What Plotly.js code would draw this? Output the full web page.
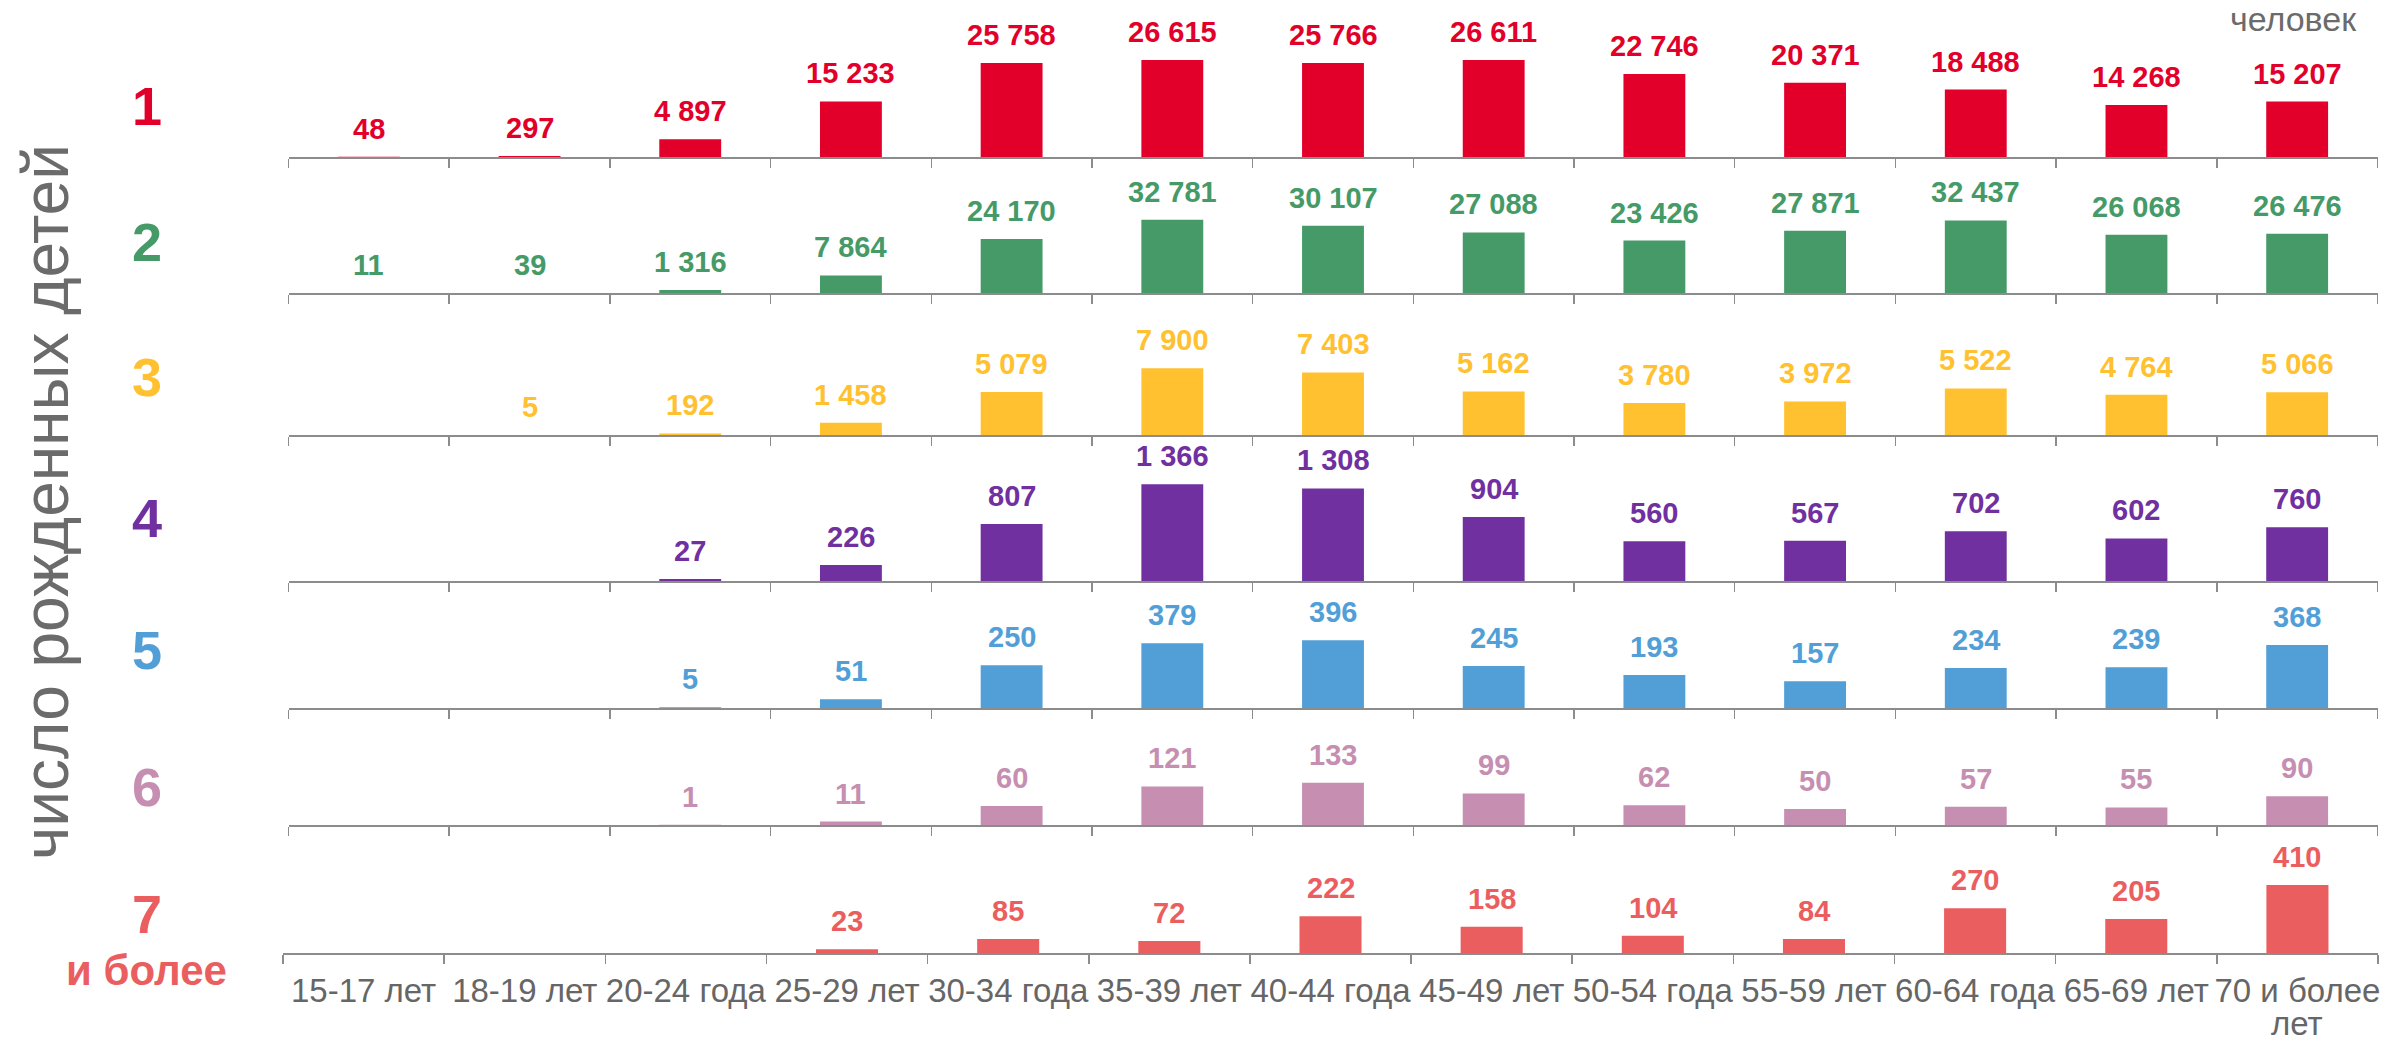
<!DOCTYPE html>
<html>
<head>
<meta charset="utf-8">
<script src="https://cdn.plot.ly/plotly-3.0.1.min.js"></script>
<style>html,body{margin:0;padding:0;background:#fff;}#chart{width:2404px;height:1043px;}</style>
</head>
<body>
<div id="chart"></div>
<script>
// ---- data ----
var ages = ['15-17 лет','18-19 лет','20-24 года','25-29 лет','30-34 года','35-39 лет','40-44 года','45-49 лет','50-54 года','55-59 лет','60-64 года','65-69 лет','70 и более лет'];
var ageTickText = ['15-17 лет','18-19 лет','20-24 года','25-29 лет','30-34 года','35-39 лет','40-44 года','45-49 лет','50-54 года','55-59 лет','60-64 года','65-69 лет','70 и более<br>лет'];
var rowLabels = ['1','2','3','4','5','6','7'];
var rowSubLabel = 'и более';
var children1 = [48,297,4897,15233,25758,26615,25766,26611,22746,20371,18488,14268,15207];
var children2 = [11,39,1316,7864,24170,32781,30107,27088,23426,27871,32437,26068,26476];
var children3 = [null,5,192,1458,5079,7900,7403,5162,3780,3972,5522,4764,5066];
var children4 = [null,null,27,226,807,1366,1308,904,560,567,702,602,760];
var children5 = [null,null,5,51,250,379,396,245,193,157,234,239,368];
var children6 = [null,null,1,11,60,121,133,99,62,50,57,55,90];
var children7 = [null,null,null,23,85,72,222,158,104,84,270,205,410];
var yTitle = 'число рожденных детей';
var unitLabel = 'человек';

// ---- styling / layout ----
var series = [children1,children2,children3,children4,children5,children6,children7];
var colors = ['#E2002B','#459A68','#FFC12F','#7030A0','#529FD7','#C68EB1','#EB5E60'];
var W = 2404, H = 1043, B = 90, PH = H - B;
var baselines = [157, 293, 435, 581, 708, 825, 953];
var labelY = [106, 242, 377, 518, 650, 787, 914];
var yMax = [27405, 44720, 11844, 1413, 585, 314, 603];
var rowH = 100;
var FONT = 'Liberation Sans, Arial, sans-serif';
function px2x(p){ return p / W; }
function py2y(p){ return (PH - p) / PH; }
function fmt(v){ return String(v).replace(/\B(?=(\d{3})+(?!\d))/g, ' '); }

// first line of each tick label goes on the axis, extra lines are drawn tighter below
var firstLines = ageTickText.map(function(t){ return t.split('<br>')[0]; });
var extraLines = ageTickText.map(function(t){ return t.split('<br>').slice(1).join(' '); });

var data = [], annotations = [];
var layout = {
  width: W, height: H,
  margin: {l:0, r:0, t:0, b:B},
  paper_bgcolor: '#ffffff', plot_bgcolor: '#ffffff',
  showlegend: false,
  font: {family: FONT, color: '#666666'},
  hovermode: false
};

for (var i = 0; i < 7; i++) {
  var n = i + 1;
  var xa = n === 1 ? 'x' : 'x' + n;
  var ya = n === 1 ? 'y' : 'y' + n;
  var xd = n === 7 ? [px2x(283), px2x(2378)] : [px2x(288.5), px2x(2377.5)];
  layout[n === 1 ? 'xaxis' : 'xaxis' + n] = {
    domain: xd, anchor: ya, type: 'category',
    categoryorder: 'array', categoryarray: ages,
    range: [-0.5, 12.5],
    showline: true, linecolor: '#8c8c8c', linewidth: 2,
    ticks: 'outside', tickson: 'boundaries', ticklen: 9, tickcolor: '#8c8c8c', tickwidth: 1.5,
    showgrid: false, zeroline: false,
    showticklabels: n === 7,
    tickvals: ages, ticktext: firstLines, tickangle: 0, ticklabelstandoff: 7,
    tickfont: {size: 33, color: '#666666', family: FONT},
    fixedrange: true
  };
  var lo = py2y(baselines[i]);
  layout[n === 1 ? 'yaxis' : 'yaxis' + n] = {
    domain: [Math.max(0, lo), py2y(baselines[i] - rowH)],
    anchor: xa, range: [0, yMax[i]], visible: false, fixedrange: true
  };
  data.push({
    type: 'bar', x: ages, y: series[i], xaxis: xa, yaxis: ya,
    width: 0.385, marker: {color: colors[i]}, hoverinfo: 'skip', cliponaxis: false
  });
  for (var j = 0; j < ages.length; j++) {
    var v = series[i][j];
    if (v === null) continue;
    annotations.push({
      xref: xa, yref: ya, x: ages[j], y: v, text: fmt(v),
      showarrow: false, yanchor: 'bottom', xanchor: 'center', yshift: 10,
      font: {size: 29, color: colors[i], family: FONT, weight: 'bold'}
    });
  }
  annotations.push({
    xref: 'paper', yref: 'paper', x: px2x(147), y: py2y(labelY[i]),
    xanchor: 'center', yanchor: 'middle', showarrow: false, text: rowLabels[i],
    font: {size: 54, color: colors[i], family: FONT, weight: 'bold'}
  });
}
for (var k = 0; k < ages.length; k++) {
  if (!extraLines[k]) continue;
  annotations.push({
    xref: 'x7', yref: 'paper', x: ages[k], y: py2y(1043),
    xanchor: 'center', yanchor: 'bottom', showarrow: false, text: extraLines[k],
    borderpad: 0,
    font: {size: 33, color: '#666666', family: FONT}
  });
}
annotations.push({
  xref: 'paper', yref: 'paper', x: px2x(146), y: py2y(970),
  xanchor: 'center', yanchor: 'middle', showarrow: false, text: rowSubLabel,
  font: {size: 42, color: colors[6], family: FONT, weight: 'bold'}
});
annotations.push({
  xref: 'paper', yref: 'paper', x: px2x(46), y: py2y(502),
  xanchor: 'center', yanchor: 'middle', showarrow: false, text: yTitle, textangle: -90,
  font: {size: 64, color: '#6b6b6b', family: FONT}
});
annotations.push({
  xref: 'paper', yref: 'paper', x: px2x(2293), y: py2y(19),
  xanchor: 'center', yanchor: 'middle', showarrow: false, text: unitLabel,
  font: {size: 34, color: '#6b6b6b', family: FONT}
});
layout.annotations = annotations;

Plotly.newPlot('chart', data, layout, {staticPlot: true, displayModeBar: false});
</script>
</body>
</html>
